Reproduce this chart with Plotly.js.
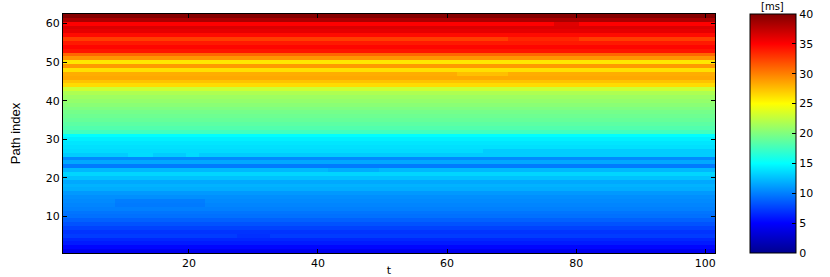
<!DOCTYPE html>
<html>
<head>
<meta charset="utf-8">
<script src="https://cdn.plot.ly/plotly-3.0.1.min.js"></script>
<style>html,body{margin:0;padding:0;background:#fff;}#chart{width:830px;height:277px;}</style>
</head>
<body>
<div id="chart"></div>
<script>
// Path index values (rows 1..62), delay in ms, read per row
const pathIndex = [];
for (let i = 1; i <= 62; i++) pathIndex.push(i);
const tValues = [];
for (let i = 1; i <= 101; i++) tValues.push(i);

const rowDelay = [
  4.3, 5.2, 6.0, 6.5, 7.3, 7.0, 7.6, 8.2, 8.8, 9.4,
  9.6, 10.0, 10.2, 10.4, 10.6, 11.0, 11.8, 12.0, 11.6, 12.6,
  13.4, 12.2, 9.8, 11.6, 10.4, 13.0, 13.6, 13.8, 14.0, 14.4,
  15.0, 17.6, 18.2, 18.6, 19.0, 19.3, 19.6, 20.0, 20.4, 20.8,
  21.2, 21.8, 23.0, 26.4, 27.4, 28.4, 28.2, 26.2, 29.0, 26.0,
  29.2, 31.0, 34.2, 34.8, 34.0, 32.6, 34.6, 36.0, 36.4, 35.0,
  38.4, 39.8
];

// local deviations: [row, tStart, tEnd, value]
const patches = [
  [26, 11, 14, 13.6], [26, 20, 21, 13.6],
  [56, 70, 80, 33.5], [47, 62, 69, 27.5],
  [27, 66, 101, 13.0], [13, 9, 22, 9.8], [14, 9, 22, 9.9],
  [5, 28, 32, 6.9], [22, 42, 49, 11.8], [60, 77, 80, 36.2]
];

const z = rowDelay.map(v => tValues.map(() => v));
patches.forEach(p => {
  for (let t = p[1]; t <= p[2]; t++) z[p[0] - 1][t - 1] = p[3];
});

const jet = [
  [0, '#00008F'], [0.125, '#0000FF'], [0.375, '#00FFFF'],
  [0.625, '#FFFF00'], [0.875, '#FF0000'], [1, '#800000']
];
const cbTicks = [0, 5, 10, 15, 20, 25, 30, 35, 40];
const font = {family: 'DejaVu Sans, sans-serif', size: 11, color: '#000'};

const trace = {
  type: 'heatmap', x: tValues, y: pathIndex, z: z,
  zmin: 0, zmax: 40, colorscale: jet, zsmooth: false,
  colorbar: {
    x: 1.0535, xanchor: 'left', xpad: 0, ypad: 0,
    y: 0.5, yanchor: 'middle', len: 1, lenmode: 'fraction',
    thickness: 46, thicknessmode: 'pixels',
    outlinewidth: 1, outlinecolor: '#000',
    tickvals: cbTicks, ticktext: cbTicks.map(String),
    ticks: 'inside', ticklen: 4, tickcolor: '#000',
    tickfont: font
  },
  hoverinfo: 'skip'
};

const layout = {
  width: 830, height: 277,
  margin: {l: 63, r: 113, t: 14, b: 24, pad: 0},
  paper_bgcolor: '#fff', plot_bgcolor: '#fff',
  font: font,
  xaxis: {
    range: [0.5, 101.5], tickvals: [20, 40, 60, 80, 100],
    ticks: 'inside', ticklen: 4, tickcolor: '#000',
    showline: true, linecolor: '#000', linewidth: 1, mirror: 'ticks',
    showgrid: false, zeroline: false, tickfont: font,
    title: {text: 't', font: {family: 'DejaVu Sans, sans-serif', size: 11}, standoff: 2}
  },
  yaxis: {
    range: [0.5, 62.5], tickvals: [10, 20, 30, 40, 50, 60],
    ticks: 'inside', ticklen: 4, tickcolor: '#000',
    showline: true, linecolor: '#000', linewidth: 1, mirror: 'ticks',
    showgrid: false, zeroline: false, tickfont: font,
    title: {text: 'Path index', font: {family: 'Liberation Sans Narrow, Liberation Sans, sans-serif', size: 13}, standoff: 22}
  },
  annotations: [{
    text: '[ms]', xref: 'paper', yref: 'paper', x: 1.0887, y: 1.0,
    xanchor: 'center', yanchor: 'bottom', yshift: 0, showarrow: false,
    font: {family: 'DejaVu Sans, sans-serif', size: 10, color: '#000'}
  }]
};

Plotly.newPlot('chart', [trace], layout, {displayModeBar: false, staticPlot: true});
</script>
</body>
</html>
